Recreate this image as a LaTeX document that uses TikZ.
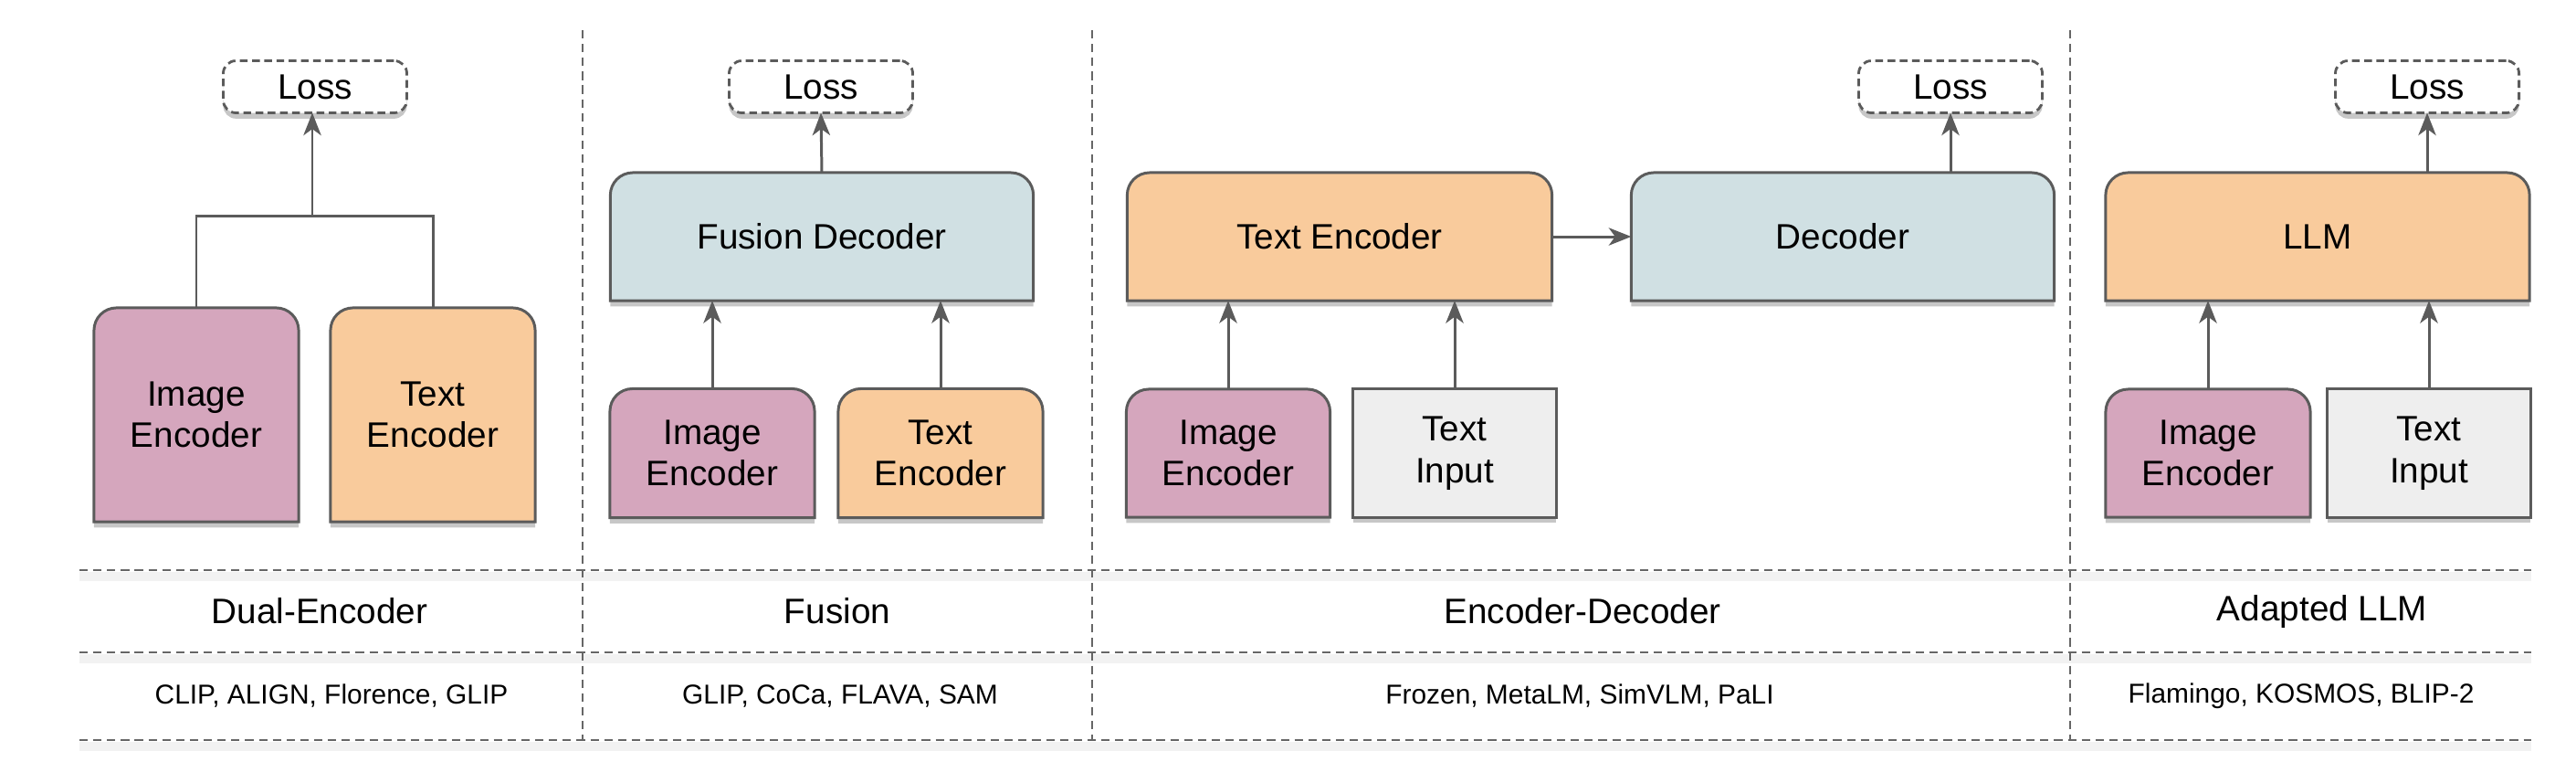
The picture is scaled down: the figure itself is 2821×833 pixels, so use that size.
\documentclass[tikz,border=0pt]{standalone}
\usepackage{fontspec}
\setmainfont{Liberation Sans}
\usetikzlibrary{arrows.meta,shadows,backgrounds}

\definecolor{pinkenc}{HTML}{D5A6BD}
\definecolor{orangeenc}{HTML}{F9CB9C}
\definecolor{bluedec}{HTML}{D0E0E3}
\definecolor{grayin}{HTML}{EEEEEE}
\definecolor{edge}{HTML}{5B5B5B}
\definecolor{sepgray}{HTML}{666666}

\tikzset{
  boxshadow/.style={drop shadow={shadow xshift=0pt,shadow yshift=-1.8pt,opacity=.22,fill=black}},
  blk/.style 2 args={minimum width=#1,minimum height=#2,inner sep=0pt},
  inbox/.style 2 args={blk={#1}{#2},draw=edge,line width=0.85pt,fill=grayin,boxshadow},
  lossbox/.style={draw=edge,line width=0.8pt,dash pattern=on 2.4pt off 1.4pt,rounded corners=4pt,
    fill=white,minimum width=2.01cm,minimum height=0.57cm,inner sep=0pt,boxshadow},
  link/.style={draw=edge,line width=0.85pt},
  sep/.style={draw=sepgray,line width=0.8pt,dash pattern=on 2.6pt off 1.7pt},
  head/.style={font=\fontsize{11}{13}\selectfont},
  models/.style={font=\fontsize{8.5}{10}\selectfont}
}

% box with rounded top corners only
\newcommand{\topround}[2]{%
  \filldraw[draw=edge,line width=0.85pt,fill=#2,boxshadow]
    (#1.south west) -- ([yshift=-7pt]#1.north west)
    arc[start angle=180,end angle=90,radius=7pt]
    -- ([xshift=-7pt]#1.north east)
    arc[start angle=90,end angle=0,radius=7pt]
    -- (#1.south east) -- cycle;}

\begin{document}
\begin{tikzpicture}[x=0.01cm,y=-0.01cm,>={Stealth[length=7pt,width=5.5pt,inset=2pt]},
  every node/.style={font=\fontsize{11}{13}\selectfont,align=center,outer sep=0pt}]
\useasboundingbox (0,0) rectangle (2821,833);

% Dual-Encoder
\path
(215,454) node[blk={2.24cm}{2.34cm}] (imgD) {Image\\Encoder}
(474,454) node[blk={2.24cm}{2.34cm}] (txtD) {Text\\Encoder}
(345,95)  node[lossbox] (lossD) {Loss}
(342,236) coordinate (jD);

% Fusion
\path
(900,259)  node[blk={4.63cm}{1.40cm}] (fusDec) {Fusion Decoder}
(780,496)  node[blk={2.24cm}{1.41cm}] (imgF) {Image\\Encoder}
(1030,496) node[blk={2.24cm}{1.41cm}] (txtF) {Text\\Encoder}
(899,95)   node[lossbox] (lossF) {Loss};

% Encoder-Decoder
\path
(1467,259) node[blk={4.65cm}{1.40cm}] (txtE) {Text Encoder}
(2018,259) node[blk={4.63cm}{1.40cm}] (decE) {Decoder}
(1345,496) node[blk={2.23cm}{1.40cm}] (imgE) {Image\\Encoder}
(1593,496) node[inbox={2.22cm}{1.40cm}] (inpE) {Text\\Input}
(2136,95)  node[lossbox] (lossE) {Loss};

% Adapted LLM
\path
(2538,259) node[blk={4.64cm}{1.40cm}] (llmA) {LLM}
(2418,496) node[blk={2.24cm}{1.40cm}] (imgA) {Image\\Encoder}
(2660,496) node[inbox={2.22cm}{1.40cm}] (inpA) {Text\\Input}
(2658,95)  node[lossbox] (lossA) {Loss};

\begin{scope}[on background layer]
\topround{imgD}{pinkenc}
\topround{txtD}{orangeenc}
\topround{fusDec}{bluedec}
\topround{imgF}{pinkenc}
\topround{txtF}{orangeenc}
\topround{txtE}{orangeenc}
\topround{decE}{bluedec}
\topround{imgE}{pinkenc}
\topround{llmA}{orangeenc}
\topround{imgA}{pinkenc}
\foreach \y in {624,714,810}
  \draw[black!5,line width=3pt] (87,\y+7) -- (2772,\y+7);
\end{scope}

\draw[link] (imgD.north) |- (jD) -| (txtD.north);
\draw[link,->] (jD) -- (jD |- lossD.south);

\draw[link,->] (imgF.north) -- (imgF |- fusDec.south);
\draw[link,->] (txtF.north) -- (txtF |- fusDec.south);
\draw[link,->] (fusDec.north) -- (lossF.south);

\draw[link,->] (imgE.north) -- (imgE |- txtE.south);
\draw[link,->] (inpE.north) -- (inpE |- txtE.south);
\draw[link,->] (txtE.east) -- (decE.west);
\draw[link,->] (lossE.south |- decE.north) -- (lossE.south);

\draw[link,->] (imgA.north) -- (imgA |- llmA.south);
\draw[link,->] (inpA.north) -- (inpA |- llmA.south);
\draw[link,->] (lossA.south |- llmA.north) -- (lossA.south);

% table below
\foreach \x in {638,1196,2267}
  \draw[sep] (\x,33) -- (\x,810);
\foreach \y in {624,714,810}
  \draw[sep] (87,\y) -- (2772,\y);

\path
(350,669)  node[head] (capD) {Dual-Encoder}
(917,669)  node[head] (capF) {Fusion}
(1733,669) node[head] (capE) {Encoder-Decoder}
(2543,669) node[head] (capA) {Adapted LLM}
(363,762)  node[models] (modD) {CLIP, ALIGN, Florence, GLIP}
(920,762)  node[models] (modF) {GLIP, CoCa, FLAVA, SAM}
(1730,762) node[models] (modE) {Frozen, MetaLM, SimVLM, PaLI}
(2520,762) node[models] (modA) {Flamingo, KOSMOS, BLIP-2};
\end{tikzpicture}
\end{document}
